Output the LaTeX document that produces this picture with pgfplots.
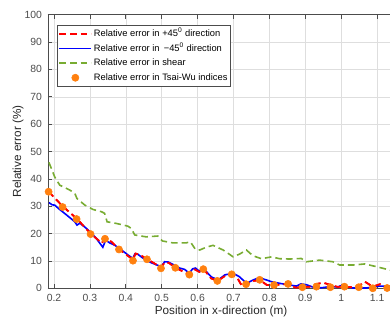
\documentclass[border=0pt]{standalone}
\usepackage{pgfplots}
\usepackage{pgfplotstable}
\pgfplotsset{compat=1.18}
\usepackage{fontspec}
\setmainfont{Liberation Sans}
\definecolor{axgray}{rgb}{0.30,0.30,0.30}
\definecolor{gridgray}{rgb}{0.87,0.87,0.87}
\definecolor{errblue}{RGB}{0,0,255}
\definecolor{errgreen}{RGB}{120,172,50}
\definecolor{errorange}{RGB}{255,128,15}
\pgfplotsset{
  redleg/.style={legend image code/.code={\draw[red, line width=1.3pt, dash pattern=on 5pt off 3pt] (0pt,0pt) -- (24pt,0pt);}},
  blueleg/.style={legend image code/.code={\draw[errblue, line width=1.2pt, solid] (0pt,0pt) -- (24pt,0pt);}},
  greenleg/.style={legend image code/.code={\draw[errgreen, line width=1.2pt, dash pattern=on 5pt off 3pt] (0pt,0pt) -- (24pt,0pt);}},
  markleg/.style={legend image code/.code={\fill[errorange] (12pt,0pt) circle (2.7pt);}},
}
\pgfplotstableread{
x y
0.185 35.3
0.224 30.0
0.263 25.5
0.303 19.9
0.333 16.5
0.342 18.2
0.360 17.0
0.381 14.3
0.420 10.5
0.427 12.7
0.437 12.4
0.460 10.6
0.499 7.6
0.508 9.5
0.520 9.3
0.538 7.5
0.578 5.0
0.592 6.9
0.605 6.0
0.617 7.0
0.638 3.6
0.656 2.7
0.676 4.5
0.696 5.0
0.712 3.5
0.725 0.5
0.735 1.3
0.755 2.7
0.774 3.0
0.793 1.2
0.813 1.2
0.833 1.4
0.853 1.6
0.872 0.3
0.892 0.4
0.912 0.6
0.931 1.6
0.951 2.0
0.971 1.2
0.990 0.5
1.010 0.6
1.030 0.4
1.049 0.8
1.066 2.4
1.088 0.6
1.108 1.5
1.128 0.4
1.150 0.5
}\redtable
\begin{document}
\begin{tikzpicture}
\useasboundingbox (-36pt,-23.775pt) rectangle (256.5pt,216.225pt);
\begin{axis}[
  at={(0pt,0pt)}, anchor=south west,
  scale only axis, width=256.5pt, height=205.2pt,
  xmin=0.1833, xmax=1.136, ymin=0, ymax=100,
  axis x line=box, axis y line=left,
  axis line style={axgray, line width=0.5pt, -},
  xtick={0.2,0.3,0.4,0.5,0.6,0.7,0.8,0.9,1,1.1},
  xticklabels={0.2,0.3,0.4,0.5,0.6,0.7,0.8,0.9,1,1.1},
  ytick={0,10,20,30,40,50,60,70,80,90,100},
  tick align=inside, tick style={axgray, line width=0.5pt},
  major tick length=3pt,
  grid=major, major grid style={gridgray, line width=0.4pt},
  /pgf/number format/assume math mode=true,
  tick label style={font=\fontsize{7.8pt}{9pt}\selectfont, text=axgray},
  xticklabel style={yshift=-1pt},
  yticklabel style={xshift=-1pt},
  xlabel={Position in x-direction (m)},
  ylabel={Relative error (\%)},
  label style={font=\fontsize{8.8pt}{10pt}\selectfont, text=black!85},
  xlabel style={at={(axis description cs:0.506,-0.084)}, anchor=center},
  ylabel style={at={(axis description cs:-0.0877,0.5)}, anchor=center, rotate=0},
  legend style={at={(axis description cs:0.026,0.962)}, anchor=north west,
    draw=axgray, fill=white, font=\fontsize{7pt}{8pt}\selectfont,
    inner xsep=1pt, inner ysep=1.5pt,
    nodes={inner sep=1.2pt, text height=5.6pt, text depth=1.6pt},
    row sep=1.4pt, column sep=0pt},
  legend cell align=left,
  clip=true,
]
\addplot[red, line width=1.3pt, dash pattern=on 5pt off 3pt, redleg] table[x=x,y=y] {\redtable};
\addlegendentry{Relative error in +45\textsuperscript{0} direction}
\addplot[errblue, line width=1.2pt, blueleg] coordinates {
(0.186,31.3) (0.195,30.5) (0.202,30.4) (0.215,28.9) (0.235,26.8) (0.250,25.2)
(0.258,24.3) (0.264,23.1) (0.272,23.8) (0.280,23.0) (0.290,21.9) (0.305,20.0)
(0.318,18.2) (0.328,16.4) (0.336,15.0) (0.344,17.6) (0.355,16.6) (0.367,15.9)
(0.378,15.0) (0.392,13.6) (0.408,12.0) (0.420,10.9) (0.425,12.5) (0.434,12.4)
(0.445,11.3) (0.457,10.3) (0.470,9.4) (0.485,8.6) (0.499,7.9) (0.508,9.7)
(0.518,9.6) (0.530,8.8) (0.550,7.4) (0.564,6.9) (0.577,5.5) (0.586,7.1)
(0.594,7.4) (0.606,6.1) (0.615,7.3) (0.625,6.0) (0.638,4.2) (0.657,3.0)
(0.676,4.9) (0.699,5.5) (0.717,4.2) (0.736,1.8) (0.754,3.0) (0.766,3.6)
(0.778,3.6) (0.793,3.0) (0.806,2.4) (0.829,1.8) (0.857,1.2) (0.875,0.8)
(0.888,1.6) (0.903,1.3) (0.920,0.5) (0.940,0.1) (0.968,0.6) (0.990,0.5)
(1.005,1.2) (1.020,0.5) (1.033,0.1) (1.070,0.1) (1.090,0.5) (1.107,0.8)
(1.150,0.8)
};
\addlegendentry{Relative error in \,−45\textsuperscript{0} direction}
\addplot[red, line width=1.3pt, dash pattern=on 5pt off 3pt, forget plot] table[x=x,y=y] {\redtable};
\addplot[errgreen, line width=1.2pt, dash pattern=on 5pt off 3pt, greenleg] coordinates {
(0.186,46.0) (0.202,40.7) (0.216,37.7) (0.244,35.9) (0.258,34.7) (0.264,32.8)
(0.286,30.4) (0.309,28.8) (0.332,28.0) (0.341,27.4) (0.348,24.3) (0.374,23.7)
(0.406,22.7) (0.415,21.9) (0.425,19.5) (0.457,18.8) (0.489,19.1) (0.502,17.3)
(0.531,16.6) (0.568,16.6) (0.580,17.0) (0.594,14.2) (0.606,14.0) (0.624,15.0)
(0.643,15.7) (0.671,14.0) (0.699,11.5) (0.717,12.5) (0.736,14.0) (0.754,11.9)
(0.778,10.8) (0.806,11.5) (0.829,10.8) (0.857,10.7) (0.889,10.9) (0.903,9.7)
(0.940,10.3) (0.977,9.7) (0.996,8.5) (1.033,8.5) (1.066,8.9) (1.098,7.9)
(1.135,6.7) (1.150,6.2)
};
\addlegendentry{Relative error in shear}
\addplot[only marks, mark=*, mark size=2.7pt, mark options={fill=errorange, draw=errorange}, markleg] coordinates {
(0.185,35.3) (0.224,29.7) (0.263,25.3) (0.302,19.8) (0.342,18.1) (0.381,14.2)
(0.420,10.1) (0.459,10.6) (0.498,7.3) (0.538,7.5) (0.577,5.0) (0.616,7.0)
(0.655,2.7) (0.695,5.1) (0.735,1.5) (0.773,3.1) (0.813,1.2) (0.852,1.6)
(0.892,0.4) (0.931,0.6) (0.970,0.4) (1.009,0.6) (1.049,0.4) (1.088,0.0)
(1.128,0.1)
};
\addlegendentry{Relative error in Tsai-Wu indices}
\end{axis}
\end{tikzpicture}
\end{document}
